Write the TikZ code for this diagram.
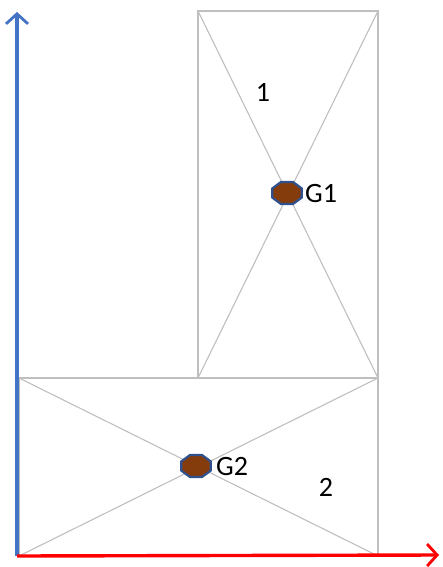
\documentclass[tikz,border=0pt]{standalone}
\usepackage{fontspec}
\setmainfont{Carlito}
\usetikzlibrary{shapes.geometric,arrows.meta}
\definecolor{edgegray}{HTML}{BFBFBF}
\definecolor{axisblue}{HTML}{4472C4}
\definecolor{axisred}{HTML}{FF0000}
\definecolor{markfill}{HTML}{843C0C}
\definecolor{markline}{HTML}{2F528F}
\tikzset{
  edge/.style={draw=edgegray, line width=1.1pt},
  axis/.style={line width=3.4pt, -{Straight Barb[length=10pt,width=22pt,line width=2.8pt]}},
  marker/.style={regular polygon, regular polygon sides=8, minimum size=27pt, inner sep=0pt,
     fill=markfill, draw=markline, line width=2.2pt, xscale=1.18, yscale=0.88, transform shape},
  lbl/.style={font=\fontsize{28}{33}\selectfont, inner sep=0pt}
}
\begin{document}
\begin{tikzpicture}[x=1pt,y=-1pt]
\useasboundingbox (0,0) rectangle (442,567);
% rectangle 1 corners
\coordinate (a1) at (198,11);
\coordinate (b1) at (378,11);
\coordinate (c1) at (378,378);
\coordinate (d1) at (198,378);
% rectangle 2 corners
\coordinate (a2) at (19,378);
\coordinate (b2) at (378,378);
\coordinate (c2) at (378,556);
\coordinate (d2) at (19,556);
\draw[edge] (a1) -- (b1) -- (c1) -- (d1) -- cycle;
\draw[edge] (a1) -- (c1);
\draw[edge] (b1) -- (d1);
\draw[edge] (a2) -- (b2) -- (c2) -- (d2) -- cycle;
\draw[edge] (a2) -- (c2);
\draw[edge] (b2) -- (d2);
% axes
\coordinate (o) at (17,556);
\coordinate (ytip) at (17,12);
\coordinate (xtip) at (439,555);
\draw[axis, axisblue] (o) -- (ytip);
\draw[axis, axisred] (o) -- (xtip);
% markers
\node[marker] (g1) at (287,193) {};
\node[marker] (g2) at (196,466) {};
\node[lbl, anchor=west] (t1) at (305,194) {G1};
\node[lbl, anchor=west] (t2) at (216,467) {G2};
\node[lbl] (n1) at (263,92) {1};
\node[lbl] (n2) at (326,487) {2};
\end{tikzpicture}
\end{document}
